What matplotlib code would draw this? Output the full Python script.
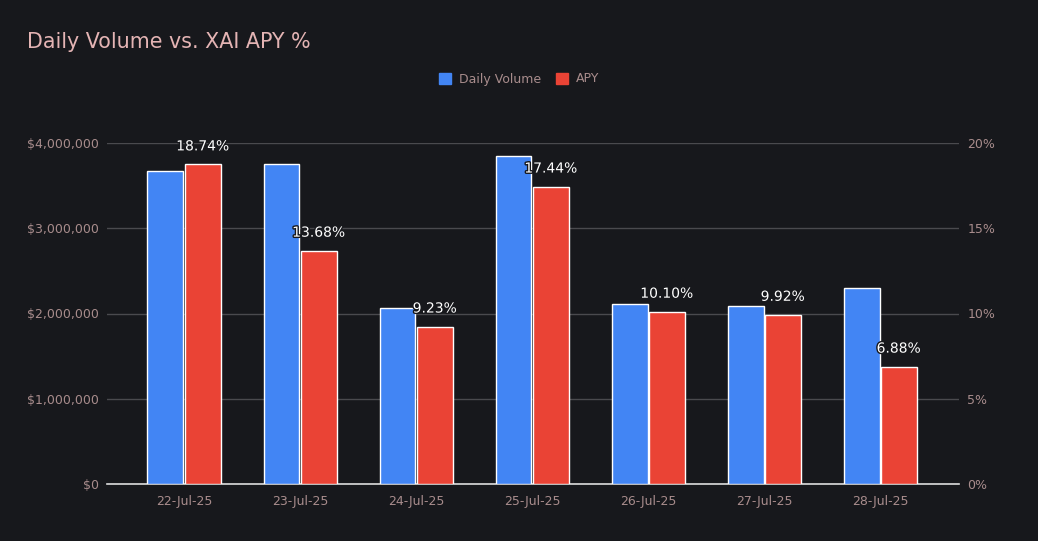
import matplotlib
matplotlib.use("Agg")
import matplotlib.pyplot as plt
import matplotlib.patheffects as pe
from matplotlib.ticker import FuncFormatter, FixedLocator
from matplotlib.patches import Patch
import numpy as np

dates = ["22-Jul-25", "23-Jul-25", "24-Jul-25", "25-Jul-25", "26-Jul-25", "27-Jul-25", "28-Jul-25"]
daily_volume = [3670000, 3750000, 2060000, 3850000, 2110000, 2090000, 2300000]
apy = [18.74, 13.68, 9.23, 17.44, 10.10, 9.92, 6.88]

BG = "#17181c"
BLUE = "#4285f4"
RED = "#ea4335"
TICK = "#a88c8c"
GRID = "#4a4a4e"

fig = plt.figure(figsize=(10.38, 5.41), dpi=100, facecolor=BG)
ax = fig.add_axes([107/1038, 57/541, 852/1038, 341/541])
ax.set_facecolor(BG)
ax2 = ax.twinx()

x = np.arange(len(dates))
w = 0.31
off = 0.16
ax.bar(x - off, daily_volume, width=w, color=BLUE, edgecolor="white", linewidth=1, zorder=3)
ax2.bar(x + off, apy, width=w, color=RED, edgecolor="white", linewidth=1, zorder=3)

ax.set_ylim(0, 4000000)
ax2.set_ylim(0, 20)
ax.set_xlim(-0.664, 6.68)

ax.yaxis.set_major_locator(FixedLocator([0, 1e6, 2e6, 3e6, 4e6]))
ax.yaxis.set_major_formatter(FuncFormatter(lambda v, p: "${:,.0f}".format(v)))
ax2.yaxis.set_major_locator(FixedLocator([0, 5, 10, 15, 20]))
ax2.yaxis.set_major_formatter(FuncFormatter(lambda v, p: "{:.0f}%".format(v)))

ax.grid(axis="y", color=GRID, linewidth=1, zorder=0)
ax.set_axisbelow(True)

for s in ["top", "left", "right"]:
    ax.spines[s].set_visible(False)
    ax2.spines[s].set_visible(False)
ax.spines["bottom"].set_color("#dddddd")
ax.spines["bottom"].set_linewidth(1.2)
ax2.spines["bottom"].set_visible(False)

ax.set_xticks(x)
ax.set_xticklabels(dates)
ax.tick_params(axis="x", length=0, colors=TICK, labelsize=9, pad=8)
ax.tick_params(axis="y", length=0, colors=TICK, labelsize=9, pad=6)
ax2.tick_params(axis="y", length=0, colors=TICK, labelsize=9, pad=6)

for xi, v in zip(x, apy):
    ax2.text(xi + off, v + 0.65, "{:.2f}%".format(v), ha="center", va="bottom",
             color="white", fontsize=10, clip_on=False, zorder=5,
             path_effects=[pe.withStroke(linewidth=2, foreground=BG)])

fig.text(27/1038, 1 - 42/541, "Daily Volume vs. XAI APY %", color="#e4b4b4",
         fontsize=14.9, ha="left", va="center")

handles = [Patch(facecolor=BLUE, edgecolor=BLUE), Patch(facecolor=RED, edgecolor=RED)]
leg = fig.legend(handles, ["Daily Volume", "APY"], loc="center", bbox_to_anchor=(519/1038, 1 - 79/541),
                 ncol=2, frameon=False, fontsize=9, handlelength=1.0, handleheight=1.0,
                 handletextpad=0.6, columnspacing=1.2)
for t in leg.get_texts():
    t.set_color(TICK)

fig.savefig("out.png", dpi=100, facecolor=BG)
